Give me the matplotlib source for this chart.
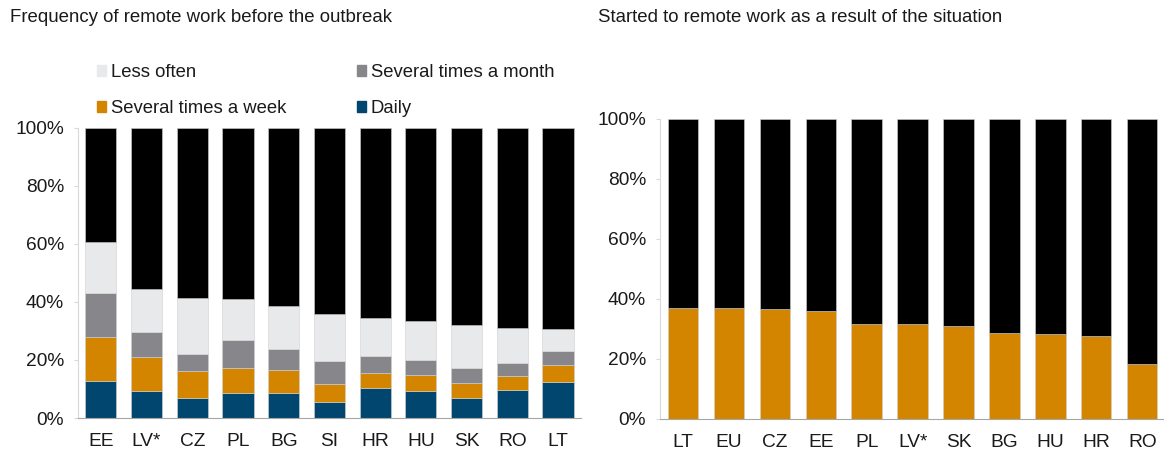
import matplotlib.pyplot as plt
import numpy as np
from matplotlib.patches import Patch
from matplotlib.ticker import PercentFormatter

plt.rcParams['font.family'] = ['Liberation Sans', 'DejaVu Sans']

# Left chart: frequency of remote work before the outbreak (% of respondents)
countries_before = ['EE', 'LV*', 'CZ', 'PL', 'BG', 'SI', 'HR', 'HU', 'SK', 'RO', 'LT']
daily = [12.6, 9.2, 6.9, 8.7, 8.5, 5.5, 10.5, 9.4, 6.8, 9.5, 12.3]
weekly = [15.2, 11.8, 9.4, 8.7, 8.1, 6.2, 5.0, 5.6, 5.3, 4.9, 5.9]
monthly = [15.2, 8.8, 5.9, 9.6, 7.3, 8.1, 5.8, 5.0, 5.3, 4.5, 4.9]
less_often = [17.5, 14.6, 19.0, 14.0, 14.8, 15.9, 13.1, 13.4, 14.6, 12.0, 7.7]

# Right chart: started to remote work as a result of the situation (%)
countries_started = ['LT', 'EU', 'CZ', 'EE', 'PL', 'LV*', 'SK', 'BG', 'HU', 'HR', 'RO']
started = [36.8, 36.8, 36.5, 36.0, 31.6, 31.6, 30.9, 28.8, 28.2, 27.8, 18.4]

c_daily = '#00466e'
c_weekly = '#d38500'
c_monthly = '#87878b'
c_less = '#e8e9eb'
c_rest = '#000000'
text_col = '#1a1a1a'

fig = plt.figure(figsize=(11.64, 4.5), dpi=100)
ax1 = fig.add_axes([0.067, 0.071, 0.432, 0.645])
ax2 = fig.add_axes([0.567, 0.069, 0.434, 0.667])

# stacked bars, left
x1 = np.arange(len(countries_before))
bottom = np.zeros(len(countries_before))
for vals, col in [(daily, c_daily), (weekly, c_weekly), (monthly, c_monthly), (less_often, c_less)]:
    ax1.bar(x1, vals, bottom=bottom, width=0.68, color=col, edgecolor='#d0d0d0', linewidth=0.4)
    bottom = bottom + np.array(vals)
ax1.bar(x1, 100 - bottom, bottom=bottom, width=0.68, color=c_rest, edgecolor='#d0d0d0', linewidth=0.4)

# bars, right
x2 = np.arange(len(countries_started))
ax2.bar(x2, started, width=0.66, color=c_weekly, edgecolor='#d0d0d0', linewidth=0.4)
ax2.bar(x2, 100 - np.array(started), bottom=started, width=0.66, color=c_rest,
        edgecolor='#d0d0d0', linewidth=0.4)

for ax, labels in [(ax1, countries_before), (ax2, countries_started)]:
    ax.set_xlim(-0.5, len(labels) - 0.5)
    ax.set_ylim(0, 100)
    ax.set_yticks(range(0, 101, 20))
    ax.yaxis.set_major_formatter(PercentFormatter(decimals=0))
    ax.set_xticks(range(len(labels)))
    ax.set_xticklabels(labels)
    ax.tick_params(axis='x', length=0, pad=11, labelsize=13.8, labelcolor=text_col)
    ax.tick_params(axis='y', length=3, color='#d9d9d9', pad=7, labelsize=13.8, labelcolor=text_col)
    for s in ['top', 'right']:
        ax.spines[s].set_visible(False)
    ax.spines['left'].set_color('#d9d9d9')
    ax.spines['bottom'].set_color('#a6a6a6')

fig.text(0.009, 0.96, 'Frequency of remote work before the outbreak', fontsize=13.4,
         color=text_col, va='center')
fig.text(0.514, 0.96, 'Started to remote work as a result of the situation', fontsize=13.4,
         color=text_col, va='center')

handles = [Patch(color=c_less, label='Less often'),
           Patch(color=c_weekly, label='Several times a week'),
           Patch(color=c_monthly, label='Several times a month'),
           Patch(color=c_daily, label='Daily')]
fig.legend(handles=handles, ncol=2, loc='upper left', bbox_to_anchor=(0.0833, 0.858),
           frameon=False, fontsize=13.3, handlelength=0.5, handleheight=0.5,
           handletextpad=0.27, columnspacing=3.8, labelspacing=1.05, borderpad=0,
           borderaxespad=0, labelcolor=text_col)

fig.savefig('out.png', dpi=100)
